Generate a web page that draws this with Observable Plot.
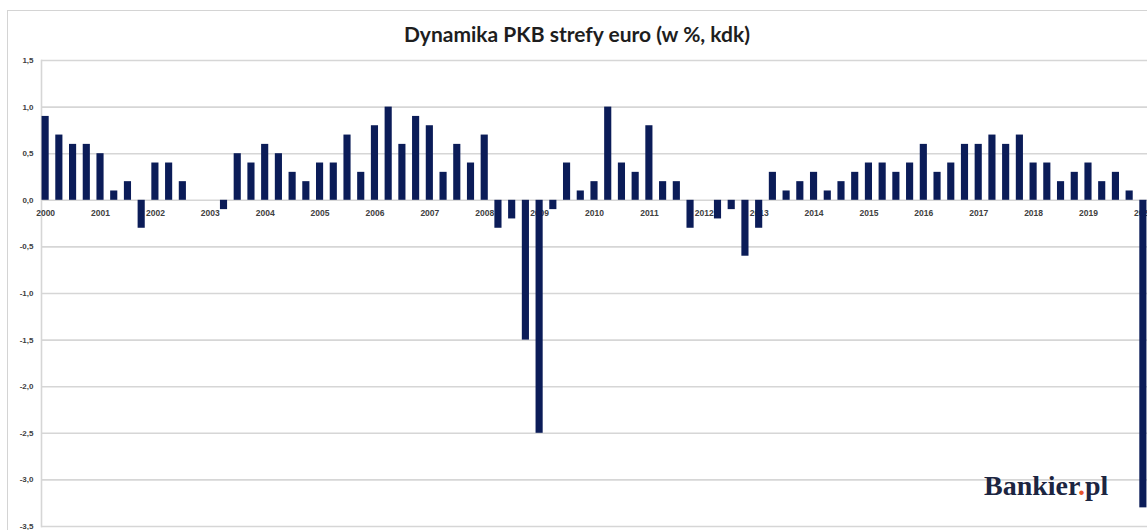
<!DOCTYPE html>
<html>
<head>
<meta charset="utf-8">
<script src="https://cdn.jsdelivr.net/npm/d3@7"></script>
<script src="https://cdn.jsdelivr.net/npm/@observablehq/plot@0.6"></script>
<style>
  html, body { margin: 0; padding: 0; background: #fff; }
  #wrap { position: relative; width: 1147px; height: 530px; overflow: hidden; background: #fff; }
  #border { position: absolute; left: 7px; top: 10px; width: 1300px; height: 700px; border: 1.5px solid #d4d4d4; box-sizing: border-box; }
  #title { position: absolute; left: 7px; top: 0; width: 1140px; height: 45px; line-height: 67px; text-align: center;
           font-family: Lato, "Open Sans", "Liberation Sans", sans-serif; font-weight: 700; font-size: 21px; color: #1e1e1e; }
  #chart { position: absolute; left: 0; top: 45px; }
  #logo { position: absolute; left: 984px; top: 470px; font-family: "Liberation Serif", "DejaVu Serif", serif; font-weight: bold;
          font-size: 28px; color: #1c2541; letter-spacing: 0px; }
  #logo .dot { color: #e8552b; }
</style>
</head>
<body>
<div id="wrap">
  <div id="border"></div>
  <div id="title">Dynamika PKB strefy euro (w %, kdk)</div>
  <div id="chart"></div>
  <div id="logo">Bankier<span class="dot">.</span>pl</div>
</div>
<script>
// Years covered (quarterly data, 2000 Q1 – 2020 Q1)
const years = [2000, 2001, 2002, 2003, 2004, 2005, 2006, 2007, 2008, 2009,
               2010, 2011, 2012, 2013, 2014, 2015, 2016, 2017, 2018, 2019, 2020];
const quarterNames = ["Q1", "Q2", "Q3", "Q4"];
// GDP growth q/q, %, one value per quarter
const growth = [
  0.9, 0.7, 0.6, 0.6,     // 2000
  0.5, 0.1, 0.2, -0.3,    // 2001
  0.4, 0.4, 0.2, 0.0,     // 2002
  0.0, -0.1, 0.5, 0.4,    // 2003
  0.6, 0.5, 0.3, 0.2,     // 2004
  0.4, 0.4, 0.7, 0.3,     // 2005
  0.8, 1.0, 0.6, 0.9,     // 2006
  0.8, 0.3, 0.6, 0.4,     // 2007
  0.7, -0.3, -0.2, -1.5,  // 2008
  -2.5, -0.1, 0.4, 0.1,   // 2009
  0.2, 1.0, 0.4, 0.3,     // 2010
  0.8, 0.2, 0.2, -0.3,    // 2011
  0.0, -0.2, -0.1, -0.6,  // 2012
  -0.3, 0.3, 0.1, 0.2,    // 2013
  0.3, 0.1, 0.2, 0.3,     // 2014
  0.4, 0.4, 0.3, 0.4,     // 2015
  0.6, 0.3, 0.4, 0.6,     // 2016
  0.6, 0.7, 0.6, 0.7,     // 2017
  0.4, 0.4, 0.2, 0.3,     // 2018
  0.4, 0.2, 0.3, 0.1,     // 2019
  -3.3                    // 2020 Q1
];
const yTicks = [1.5, 1.0, 0.5, 0.0, -0.5, -1.0, -1.5, -2.0, -2.5, -3.0, -3.5];

const data = growth.map((v, i) => {
  const year = years[Math.floor(i / 4)];
  const q = quarterNames[i % 4];
  return { key: `${year}-${q}`, year, q, v };
});
const yearStarts = data.filter(d => d.q === "Q1");

const fmt = v => v.toFixed(1).replace(".", ",");

const chart = Plot.plot({
  width: 1147,
  height: 485,
  marginTop: 15,
  marginBottom: 4,
  marginLeft: 41,
  marginRight: 0,
  style: { fontFamily: "'Liberation Sans', Arial, sans-serif", background: "transparent", overflow: "hidden" },
  x: { type: "band", domain: data.map(d => d.key), range: [34.7, 1153.3], paddingInner: 0.48, paddingOuter: 0.5, axis: null },
  y: { domain: [-3.5, 1.5], ticks: yTicks, tickFormat: fmt },
  marks: [
    Plot.gridY(yTicks, { stroke: "#d6d6d6", strokeOpacity: 1, strokeWidth: 1.6 }),
    Plot.frame({ anchor: "left", stroke: "#d6d6d6", strokeWidth: 1.6 }),
    Plot.axisY(yTicks, { tickSize: 0, tickPadding: 8, fontSize: 8, fontWeight: "bold", fill: "#404040", label: null, tickFormat: fmt }),
    Plot.text(yearStarts, { x: "key", y: () => 0, text: d => String(d.year), dy: 13, fontSize: 8.5, fontWeight: "bold", fill: "#404040" }),
    Plot.barY(data, { x: "key", y: "v", fill: "#0b1c58" })
  ]
});
document.getElementById("chart").appendChild(chart);
</script>
</body>
</html>
